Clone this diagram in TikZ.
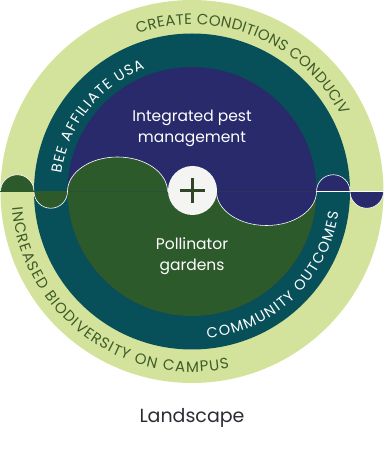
\documentclass[tikz,border=0pt]{standalone}
\usepackage{fontspec}
\setmainfont{Poppins}
\usetikzlibrary{decorations.text}
\definecolor{ringlime}{HTML}{D4E39B}
\definecolor{ringteal}{HTML}{07505A}
\definecolor{ipmnavy}{HTML}{282A6B}
\definecolor{gardgreen}{HTML}{2D5A2B}
\definecolor{hubwhite}{HTML}{F4F4F2}
\definecolor{limetext}{HTML}{3E5C2A}
\definecolor{plusgreen}{HTML}{2F4526}
\definecolor{captext}{HTML}{2B2D33}
\tikzset{
  seam/.style={draw=white, line width=0.6pt},
  core/.style={text=white, align=center, font=\fontsize{15.5}{21}\selectfont},
  hub/.style={circle, fill=hubwhite, minimum size=49pt, inner sep=0pt},
  plusmark/.style={draw=plusgreen, line width=3pt},
  outertxt/.style={decorate, decoration={text along path, text align={fit to path},
      text={|\fontsize{15}{15}\selectfont\color{limetext}|#1}}},
  innertxt/.style={decorate, decoration={text along path, text align={fit to path},
      text={|\fontsize{14.5}{15}\selectfont\color{white}|#1}}},
}
\begin{document}
\begin{tikzpicture}[x=1pt, y=1pt]
\useasboundingbox (-192,-262.5) rectangle (192,191.5);
\fill[ringlime] (0,0) circle[radius=191.5];
\fill[ringteal] (0,0) circle[radius=158];
\fill[ipmnavy] (0,0) circle[radius=124.5];
\fill[gardgreen] (-124.5,0) arc[start angle=180, end angle=360, radius=124.5] -- cycle;
% bumps along the seam
\fill[gardgreen] (-124.5,0) arc[start angle=180, end angle=0, x radius=50, y radius=34.5] -- cycle;
\draw[seam] (-124.5,0) arc[start angle=180, end angle=0, x radius=50, y radius=34.5];
\fill[ipmnavy] (24.5,0) arc[start angle=180, end angle=360, x radius=50, y radius=34] -- cycle;
\draw[seam] (24.5,0) arc[start angle=180, end angle=360, x radius=50, y radius=34];
\filldraw[gardgreen, seam] (-191.5,0) arc[start angle=180, end angle=0, radius=16.75] -- cycle;
\filldraw[gardgreen, seam] (-158,0) arc[start angle=180, end angle=360, radius=16.75] -- cycle;
\filldraw[ipmnavy, seam] (124.5,0) arc[start angle=180, end angle=0, radius=16.75] -- cycle;
\filldraw[ipmnavy, seam] (158,0) arc[start angle=180, end angle=360, radius=16.75] -- cycle;
\fill[gardgreen] (-191.5,-0.4) rectangle (-124.5,0.4);
\node[hub] (hub) at (0.5,1) {};
\draw[plusmark] ([xshift=-12.5pt]hub.center) -- ([xshift=12.5pt]hub.center);
\draw[plusmark] ([yshift=-12.5pt]hub.center) -- ([yshift=12.5pt]hub.center);
% ring texts
\path[outertxt={CREATE CONDITIONS CONDUCIV}] (109:167) arc[start angle=109, end angle=27, radius=167];
\path[outertxt={INCREASED BIODIVERSITY ON CAMPUS}] (185:180.5) arc[start angle=185, end angle=282, radius=180.5];
\path[innertxt={BEE AFFILIATE USA}] (172:131.5) arc[start angle=172, end angle=111, radius=131.5];
\path[innertxt={COMMUNITY OUTCOMES}] (276:148) arc[start angle=276, end angle=352, radius=148];
\node[core] (ipm) at (0,63.5) {Integrated pest\\management};
\node[core] (garden) at (0,-64.5) {Pollinator\\gardens};
\node[text=captext, font=\fontsize{19}{19}\selectfont, anchor=base] (title) at (0,-231) {Landscape};
\end{tikzpicture}
\end{document}
